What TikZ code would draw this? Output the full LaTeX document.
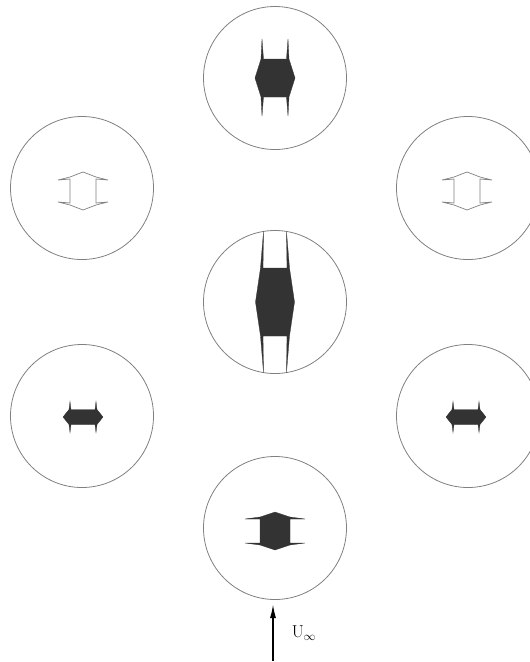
\documentclass[tikz,border=0pt]{standalone}
\usetikzlibrary{arrows.meta}
\begin{document}
\begin{tikzpicture}[x=1pt,y=-1pt,
  bubble/.style={draw=black!50,line width=0.8pt,circle,minimum size=143pt,inner sep=0pt},
  solidbody/.style={fill=black!80,draw=black!80,line width=0.3pt},
  openbody/.style={fill=white,draw=black!50,line width=0.7pt}]
\useasboundingbox (0,0) rectangle (530,662);
\clip (0,0) rectangle (530,662);

% Circles
\node[bubble] (top) at (275,78) {};
\node[bubble] (upleft) at (82,188) {};
\node[bubble] (upright) at (468,188) {};
\node[bubble] (mid) at (275,302) {};
\node[bubble] (lowleft) at (82,416) {};
\node[bubble] (lowright) at (468,416) {};
\node[bubble] (bottom) at (275,528) {};

% Top shape, flaps up and down
\filldraw[solidbody,shift={(top.center)}] (-20,0) -- (-14,-19) -- (-13,-39) -- (-11.5,-19) -- (11.5,-19) -- (13,-39) -- (14,-19) -- (20,0)
  -- (14,19) -- (13,38) -- (11.5,19) -- (-11.5,19) -- (-13,38) -- (-14,19) -- cycle;

% Middle shape, flaps reach the circle
\filldraw[solidbody,shift={(mid.center)}] (-19.5,0) -- (-14.5,-34) -- (-11.5,-70.5) -- (-12,-34) -- (12,-34) -- (11.5,-70.5) -- (14.5,-34) -- (19.5,0)
  -- (14.5,34) -- (11.5,70.5) -- (12,34) -- (-12,34) -- (-11.5,70.5) -- (-14.5,34) -- cycle;

% Bottom shape, flaps sideways
\filldraw[solidbody,shift={(bottom.center)},yshift=-3pt] (0,-19) -- (15,-14) -- (30,-12) -- (15,-12) -- (15,12) -- (30,12) -- (15,14) -- (0,19)
  -- (-15,14) -- (-30,12) -- (-15,12) -- (-15,-12) -- (-30,-12) -- (-15,-14) -- cycle;

% Open shapes
\filldraw[openbody,shift={(upleft.center)},xshift=1pt,yshift=-3pt] (0,-19) -- (13,-14) -- (25,-11) -- (13,-12) -- (13,12) -- (25,11) -- (13,14) -- (0,19)
  -- (-13,14) -- (-25,11) -- (-13,12) -- (-13,-12) -- (-25,-11) -- (-13,-14) -- cycle;
\filldraw[openbody,shift={(upright.center)},xshift=-1pt,yshift=-3pt] (0,-19) -- (13,-14) -- (25,-11) -- (13,-12) -- (13,12) -- (25,11) -- (13,14) -- (0,19)
  -- (-13,14) -- (-25,11) -- (-13,12) -- (-13,-12) -- (-25,-11) -- (-13,-14) -- cycle;

% Small shapes
\filldraw[solidbody,shift={(lowleft.center)},xshift=1pt,yshift=-1pt] (-20,0) -- (-14,-7.5) -- (-13,-15.5) -- (-12,-7.5) -- (12,-7.5) -- (13,-15.5) -- (14,-7.5) -- (20,0)
  -- (14,7.5) -- (13,15.5) -- (12,7.5) -- (-12,7.5) -- (-13,15.5) -- (-14,7.5) -- cycle;
\filldraw[solidbody,shift={(lowright.center)},xshift=-2pt,yshift=-1pt] (-20,0) -- (-14,-7.5) -- (-13,-15.5) -- (-12,-7.5) -- (12,-7.5) -- (13,-15.5) -- (14,-7.5) -- (20,0)
  -- (14,7.5) -- (13,15.5) -- (12,7.5) -- (-12,7.5) -- (-13,15.5) -- (-14,7.5) -- cycle;

% Free stream
\coordinate (tail) at (273,661);
\coordinate (head) at (273,604);
\draw[-{Latex[length=14pt,width=6pt]},line width=1.6pt] (tail) -- (head);
\node (uinf) at (304,633) {\fontsize{17}{20}\selectfont$\mathrm{U}_\infty$};
\end{tikzpicture}
\end{document}
